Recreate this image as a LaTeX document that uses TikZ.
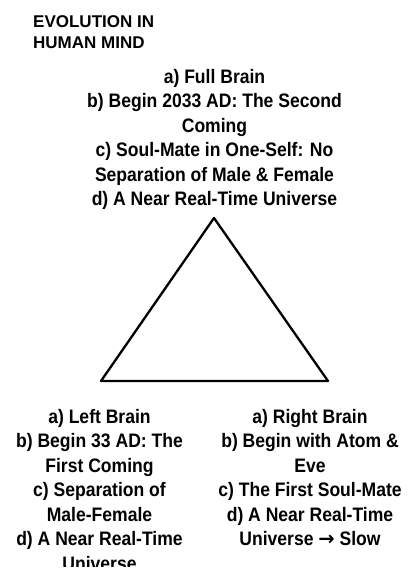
\documentclass[tikz,border=0pt]{standalone}
\usepackage{fontspec}
\setmainfont{Liberation Sans}
\newfontfamily\listfont[FakeStretch=0.9]{Liberation Sans}
\newfontfamily\arrowfont{DejaVu Sans}

\begin{document}
\begin{tikzpicture}[
	x=1pt, y=1pt,
	line cap=round, line join=round,
	heading/.style={anchor=north west, align=left, inner sep=0pt, font=\bfseries\fontsize{17}{21}\selectfont},
	brainlist/.style={anchor=north, align=center, inner sep=0pt, font=\listfont\bfseries\fontsize{19.5}{24.5}\selectfont},
	side/.style={draw=black, line width=2.3pt}
	]
	
	\clip (0,0) rectangle (415,588);
	\fill[white] (0,0) rectangle (415,588);
	
	\node[heading] (title) at (33,573) {EVOLUTION IN\\HUMAN MIND};
	
	\node[brainlist] (full) at (214.5,519) {a) Full Brain\\b) Begin 2033 AD: The Second\\Coming\\c) Soul-Mate in One-Self: No\\Separation of Male \& Female\\d) A Near Real-Time Universe};
	
	\coordinate (apex) at (214,370);
	\coordinate (lcorner) at (101,207);
	\coordinate (rcorner) at (328,207);
	\draw[side] (apex)--(lcorner)--(rcorner)--cycle;
	
	\begin{scope}
		\clip (0,21) rectangle (205,588);
		\node[brainlist] (left) at (99.5,179) {a) Left Brain\\b) Begin 33 AD: The\\First Coming\\c) Separation of\\Male-Female\\d) A Near Real-Time\\Universe};
	\end{scope}
	
	\node[brainlist] (right) at (310,179) {a) Right Brain\\b) Begin with Atom \&\\Eve\\c) The First Soul-Mate\\d) A Near Real-Time\\Universe {\arrowfont\bfseries\fontsize{19.5}{24.5}\selectfont →} Slow};
\end{tikzpicture}
\end{document}
